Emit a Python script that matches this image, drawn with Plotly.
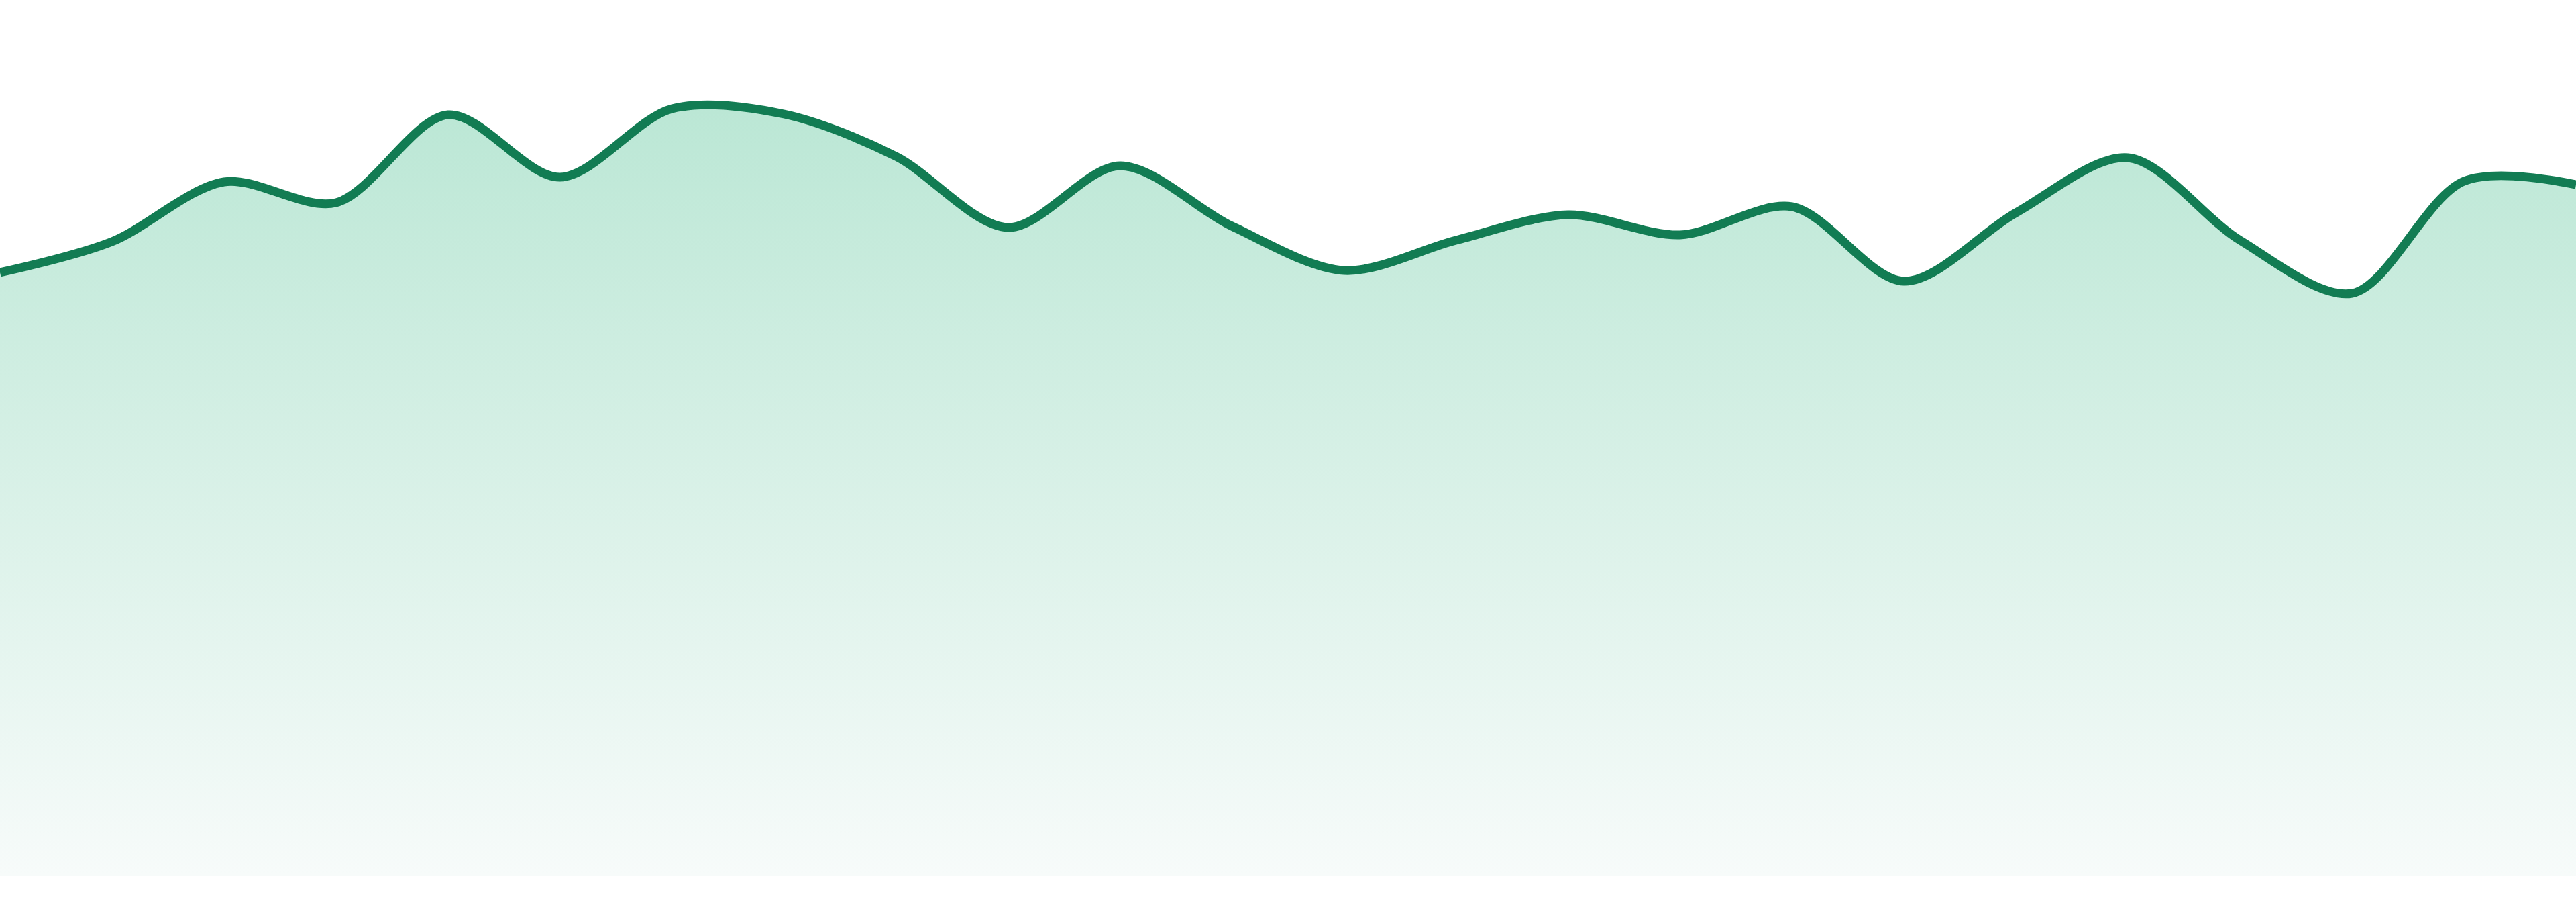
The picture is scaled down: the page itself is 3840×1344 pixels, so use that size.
import plotly.graph_objects as go

# values, one per evenly spaced step
steps = list(range(24))
values = [89.9, 94.5, 103.4, 100.3, 113.4, 104.1, 114.3, 113.5, 107.2, 96.6,
          105.8, 96.8, 90.2, 94.7, 98.5, 95.5, 99.7, 88.6, 98.8, 107.0,
          94.7, 86.8, 103.5, 103.0]

y_top = 130.5  # headroom above the series

line_color = "#127c53"

fig = go.Figure()

fig.add_trace(go.Scatter(
    x=steps,
    y=values,
    mode="lines",
    line=dict(color=line_color, width=13, shape="spline", smoothing=0.9),
    fill="tozeroy",
    fillgradient=dict(
        type="vertical",
        start=0,
        stop=max(values),
        colorscale=[[0, "rgba(247,251,250,1)"], [1, "rgba(187,231,213,1)"]],
    ),
    hoverinfo="skip",
    showlegend=False,
))

fig.update_layout(
    width=3840,
    height=1344,
    margin=dict(l=0, r=0, t=0, b=39),
    paper_bgcolor="white",
    plot_bgcolor="white",
    xaxis=dict(range=[0, 23], visible=False, fixedrange=True),
    yaxis=dict(range=[0, y_top], visible=False, fixedrange=True),
)

# page has a default 8px body margin; drop it so the chart sits flush
fig.write_html(
    "out.html",
    config={"displayModeBar": False},
    post_script="document.body.style.margin='0';document.body.style.overflow='hidden';",
)
